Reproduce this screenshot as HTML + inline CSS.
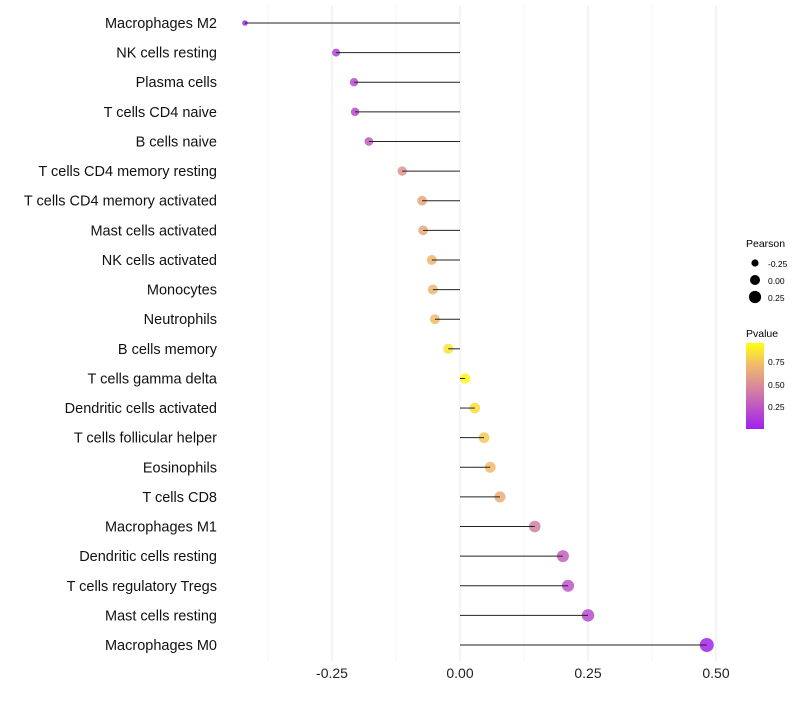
<!DOCTYPE html>
<html><head><meta charset="utf-8"><style>
body{margin:0;background:#fff;font-family:"Liberation Sans",sans-serif;}
svg text{font-family:"Liberation Sans",sans-serif;}
</style></head><body>
<svg id="chart" width="800" height="700" xmlns="http://www.w3.org/2000/svg">
<g id="grid"></g>
<g id="marks"></g>
<g id="stems"></g>
<g id="ylabels"></g>
<g id="xlabels"></g>
<g>
<text x="746" y="247" font-size="10.5" fill="#000">Pearson</text>
<circle cx="755" cy="263" r="3.6" fill="#000"/>
<text x="768" y="267" font-size="8.5">-0.25</text>
<circle cx="755" cy="280" r="5" fill="#000"/>
<text x="768" y="284" font-size="8.5">0.00</text>
<circle cx="755" cy="297" r="6.1" fill="#000"/>
<text x="768" y="301" font-size="8.5">0.25</text>
</g>
<g>
<defs><linearGradient id="pg" x1="0" y1="1" x2="0" y2="0">
<stop offset="0" stop-color="#a020f0"/><stop offset="0.5" stop-color="#d98a9a"/><stop offset="0.75" stop-color="#f1bb6a"/><stop offset="1" stop-color="#ffff10"/></linearGradient></defs>
<text x="746" y="337" font-size="10.5">Pvalue</text>
<rect x="746" y="343" width="18" height="86" fill="url(#pg)"/>
<text x="768" y="365" font-size="8.5">0.75</text>
<text x="768" y="388" font-size="8.5">0.50</text>
<text x="768" y="410" font-size="8.5">0.25</text>
</g>
</svg>
<script>
const categories=["Macrophages M2","NK cells resting","Plasma cells","T cells CD4 naive","B cells naive","T cells CD4 memory resting","T cells CD4 memory activated","Mast cells activated","NK cells activated","Monocytes","Neutrophils","B cells memory","T cells gamma delta","Dendritic cells activated","T cells follicular helper","Eosinophils","T cells CD8","Macrophages M1","Dendritic cells resting","T cells regulatory  Tregs","Mast cells resting","Macrophages M0"];
const pearson=[-0.42,-0.242,-0.207,-0.205,-0.178,-0.113,-0.074,-0.072,-0.055,-0.053,-0.049,-0.023,0.01,0.029,0.047,0.059,0.078,0.146,0.201,0.211,0.25,0.482];
const pvalue=[0.02,0.15,0.2,0.2,0.28,0.55,0.65,0.65,0.72,0.72,0.75,0.9,0.97,0.88,0.8,0.75,0.68,0.45,0.3,0.25,0.2,0.02];
const xTicks=[-0.25,0,0.25,0.5];
const xTickLabels=["-0.25","0.00","0.25","0.50"];
const NS="http://www.w3.org/2000/svg";
function x(v){return 460+v*512;}
function y(i){return 23+i*(622/21);}
function r(v){return Math.sqrt(Math.max(4,27+46*v));}
function color(p){
 const st=[[0,[160,32,240]],[0.5,[217,138,154]],[0.75,[241,187,106]],[1,[255,255,16]]];
 for(let k=1;k<st.length;k++){if(p<=st[k][0]){const a=st[k-1],b=st[k];const t=(p-a[0])/(b[0]-a[0]);
 return "rgb("+a[1].map((c,j)=>Math.round(c+(b[1][j]-c)*t)).join(",")+")";}}
 return "rgb(255,255,16)";}
function mk(tag,attrs,parent){const e=document.createElementNS(NS,tag);for(const k in attrs)e.setAttribute(k,attrs[k]);document.getElementById(parent).appendChild(e);return e;}
for(let v=-0.375;v<=0.51;v+=0.125){
 const major=Math.abs((v/0.25)-Math.round(v/0.25))<1e-6;
 const g=mk("line",{x1:x(v),x2:x(v),y1:5,y2:662,stroke:major?"#ebebeb":"#f4f4f4","stroke-width":1},"grid");
 
 
}
categories.forEach((c,i)=>{
 const d=mk("circle",{cx:x(pearson[i]),cy:y(i),r:r(pearson[i]),fill:color(pvalue[i]),"fill-opacity":0.85},"marks");
 
 
 const l=mk("line",{x1:x(0),x2:x(pearson[i]),y1:y(i),y2:y(i),stroke:"#222","stroke-width":1},"stems");
 
 
 const t=mk("text",{x:217,y:y(i)+5,"text-anchor":"end","font-size":14.5,fill:"#111"},"ylabels");
 t.textContent=c;
 
 
});
xTicks.forEach((v,i)=>{
 const t=mk("text",{x:x(v),y:678,"text-anchor":"middle","font-size":14,fill:"#222"},"xlabels");
 t.textContent=xTickLabels[i];
 
 
});
</script>
</body></html>
